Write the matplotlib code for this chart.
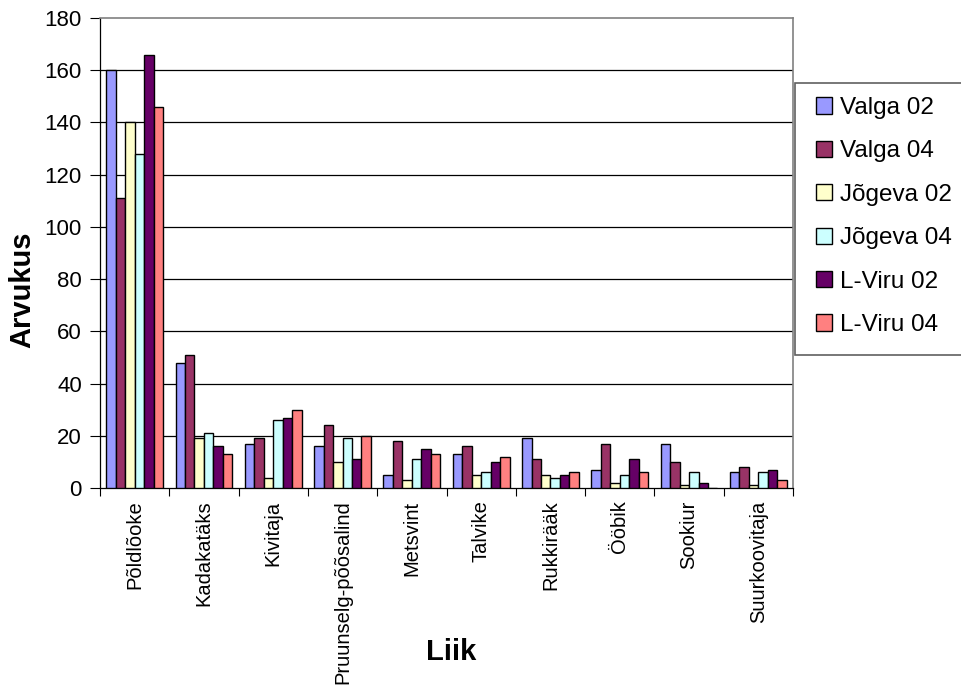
"""
plot.py
Bird counts per species for three counties (2002 vs 2004), grouped bar chart.
Saves out.png next to the script.
"""

import matplotlib
matplotlib.use("Agg")
import matplotlib.pyplot as plt
from matplotlib.patches import Patch, Rectangle
import numpy as np

plt.rcParams["font.family"] = ["Liberation Sans", "DejaVu Sans"]

W, H = 962, 686  # output size in pixels (dpi 100)

categories = ["Põldlõoke", "Kadakatäks", "Kivitaja", "Pruunselg-põõsalind",
              "Metsvint", "Talvike", "Rukkirääk", "Ööbik", "Sookiur",
              "Suurkoovitaja"]

valga_02 = [160, 48, 17, 16, 5, 13, 19, 7, 17, 6]
valga_04 = [111, 51, 19, 24, 18, 16, 11, 17, 10, 8]
jogeva_02 = [140, 19, 4, 10, 3, 5, 5, 2, 1, 1]
jogeva_04 = [128, 21, 26, 19, 11, 6, 4, 5, 6, 6]
lviru_02 = [166, 16, 27, 11, 15, 10, 5, 11, 2, 7]
lviru_04 = [146, 13, 30, 20, 13, 12, 6, 6, 0, 3]

series_names = ["Valga 02", "Valga 04", "Jõgeva 02", "Jõgeva 04",
                "L-Viru 02", "L-Viru 04"]
# Excel 97-2003 default chart palette
colors = ["#9999FF", "#993366", "#FFFFCC", "#CCFFFF", "#660066", "#FF8080"]

y_ticks = [0, 20, 40, 60, 80, 100, 120, 140, 160, 180]


def fx(px):
    return px / W


def fy(py):
    return 1 - py / H


def main() -> None:
    series = [valga_02, valga_04, jogeva_02, jogeva_04, lviru_02, lviru_04]

    fig = plt.figure(figsize=(W / 100, H / 100), dpi=100)
    # plot area: x 100..793, y 18..488 (pixels)
    ax = fig.add_axes([fx(100), fy(488), fx(793) - fx(100), fy(18) - fy(488)])

    x = np.arange(len(categories))
    n = len(series)
    bw = 0.82 / n
    for i, (vals, c) in enumerate(zip(series, colors)):
        ax.bar(x + (i - (n - 1) / 2) * bw, vals, width=bw, color=c,
               edgecolor="black", linewidth=1.0, zorder=3)

    # horizontal gridlines like Excel
    for t in y_ticks[1:-1]:
        ax.axhline(t, color="black", linewidth=0.9, zorder=1)

    ax.set_xlim(-0.5, len(categories) - 0.5)
    ax.set_ylim(0, 180)
    ax.set_yticks(y_ticks)
    ax.tick_params(axis="y", direction="out", length=7, width=0.8,
                   labelsize=16, pad=6)

    ax.set_xticks(x)
    ax.set_xticklabels(categories, rotation=90, fontsize=14.5)
    ax.tick_params(axis="x", which="major", length=0, pad=9)
    ax.set_xticks(np.arange(len(categories) + 1) - 0.5, minor=True)
    ax.tick_params(axis="x", which="minor", direction="out", length=6,
                   width=0.8)

    for side in ("top", "right"):
        ax.spines[side].set_color("#808080")
        ax.spines[side].set_linewidth(1.2)
    for side in ("left", "bottom"):
        ax.spines[side].set_color("black")
        ax.spines[side].set_linewidth(0.9)

    fig.text(fx(22), fy(290), "Arvukus", rotation=90, fontsize=21,
             fontweight="bold", ha="center", va="center")
    fig.text(fx(451), fy(652), "Liik", fontsize=21, fontweight="bold",
             ha="center", va="center")

    # legend box, partly running off the right edge
    fig.patches.append(Rectangle((fx(795), fy(355)), fx(975) - fx(795),
                                 fy(83) - fy(355), transform=fig.transFigure,
                                 facecolor="white", edgecolor="#606060",
                                 linewidth=1.2, zorder=0))
    handles = [Patch(facecolor=c, edgecolor="black", linewidth=1.0)
               for c in colors]
    fig.legend(handles, series_names, loc="upper left",
               bbox_to_anchor=(fx(816), fy(97)), frameon=False, fontsize=17.5,
               handlelength=0.65, handleheight=0.65, handletextpad=0.35,
               labelspacing=0.88, borderpad=0, borderaxespad=0)

    fig.savefig("out.png", dpi=100)
    plt.close(fig)


if __name__ == "__main__":
    main()
